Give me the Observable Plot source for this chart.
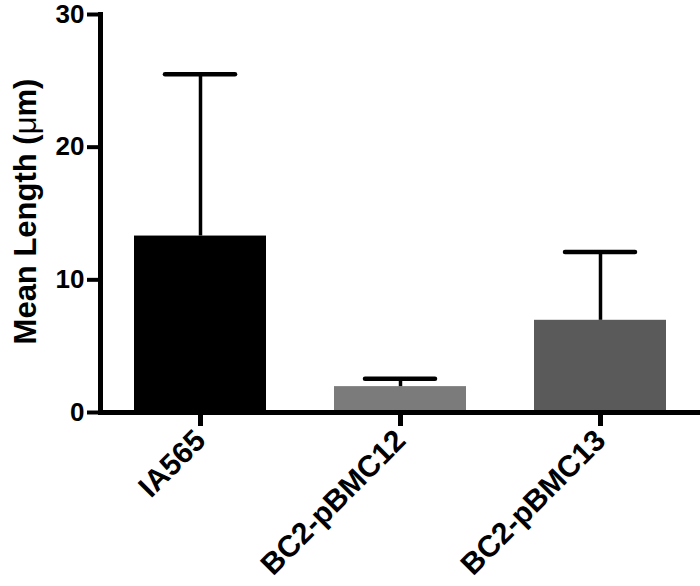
<!DOCTYPE html>
<html>
<head>
<meta charset="utf-8">
<script src="https://cdn.jsdelivr.net/npm/d3@7"></script>
<script src="https://cdn.jsdelivr.net/npm/@observablehq/plot@0.6"></script>
<style>
  html, body { margin: 0; padding: 0; background: #fff; }
</style>
</head>
<body>
<div id="chart"></div>
<script>
const categories = ["IA565", "BC2-pBMC12", "BC2-pBMC13"];
const means = [13.3, 1.95, 6.95];
const errorTops = [25.5, 2.55, 12.1];
const barColors = ["#000000", "#7b7b7b", "#5a5a5a"];
const yTicks = [0, 10, 20, 30];
const yTitle = "Mean Length (μm)";

const data = categories.map((name, i) => ({
  name, mean: means[i], top: errorTops[i], color: barColors[i]
}));

const chart = Plot.plot({
  width: 700,
  height: 586,
  marginLeft: 100,
  marginRight: 0,
  marginTop: 14,
  marginBottom: 174,
  style: { fontFamily: "'Liberation Sans', Arial, sans-serif", fontWeight: "bold", color: "#000", background: "#fff" },
  x: { domain: categories, paddingInner: 0.34, paddingOuter: 0.17, label: null },
  y: { domain: [0, 30], label: null },
  marks: [
    Plot.barY(data, { x: "name", y: "mean", fill: "color" }),
    Plot.ruleX(data, { x: "name", y1: "mean", y2: "top", stroke: "#000", strokeWidth: 3.5 }),
    Plot.tickY(data, { x: "name", y: "top", stroke: "#000", strokeWidth: 4.5, strokeLinecap: "round", insetLeft: 31, insetRight: 31 }),
    Plot.axisY({ ticks: yTicks, tickSize: 13, strokeWidth: 4, fontSize: 26, tickPadding: 3, label: null }),
    Plot.axisX({ tickSize: 14, strokeWidth: 5, tickRotate: -45, fontSize: 30, tickPadding: 9, label: null }),
    Plot.ruleY([0], { stroke: "#000", strokeWidth: 5 }),
    Plot.frame({ anchor: "left", stroke: "#000", strokeWidth: 5 }),
    Plot.text([yTitle], { frameAnchor: "left", textAnchor: "middle", rotate: -90, dx: -74, dy: -2, fontSize: 31, fontWeight: "bold", fill: "#000" })
  ]
});

document.getElementById("chart").appendChild(chart);

// thinner mu glyph as in the original
chart.querySelectorAll("text").forEach(t => {
  if (t.textContent === yTitle) {
    const parts = yTitle.split("μ");
    t.textContent = "";
    const ns = "http://www.w3.org/2000/svg";
    const a = document.createElementNS(ns, "tspan"); a.textContent = parts[0];
    const b = document.createElementNS(ns, "tspan"); b.textContent = "μ"; b.setAttribute("font-weight", "normal");
    const c = document.createElementNS(ns, "tspan"); c.textContent = parts[1];
    t.append(a, b, c);
  }
});
</script>
</body>
</html>
